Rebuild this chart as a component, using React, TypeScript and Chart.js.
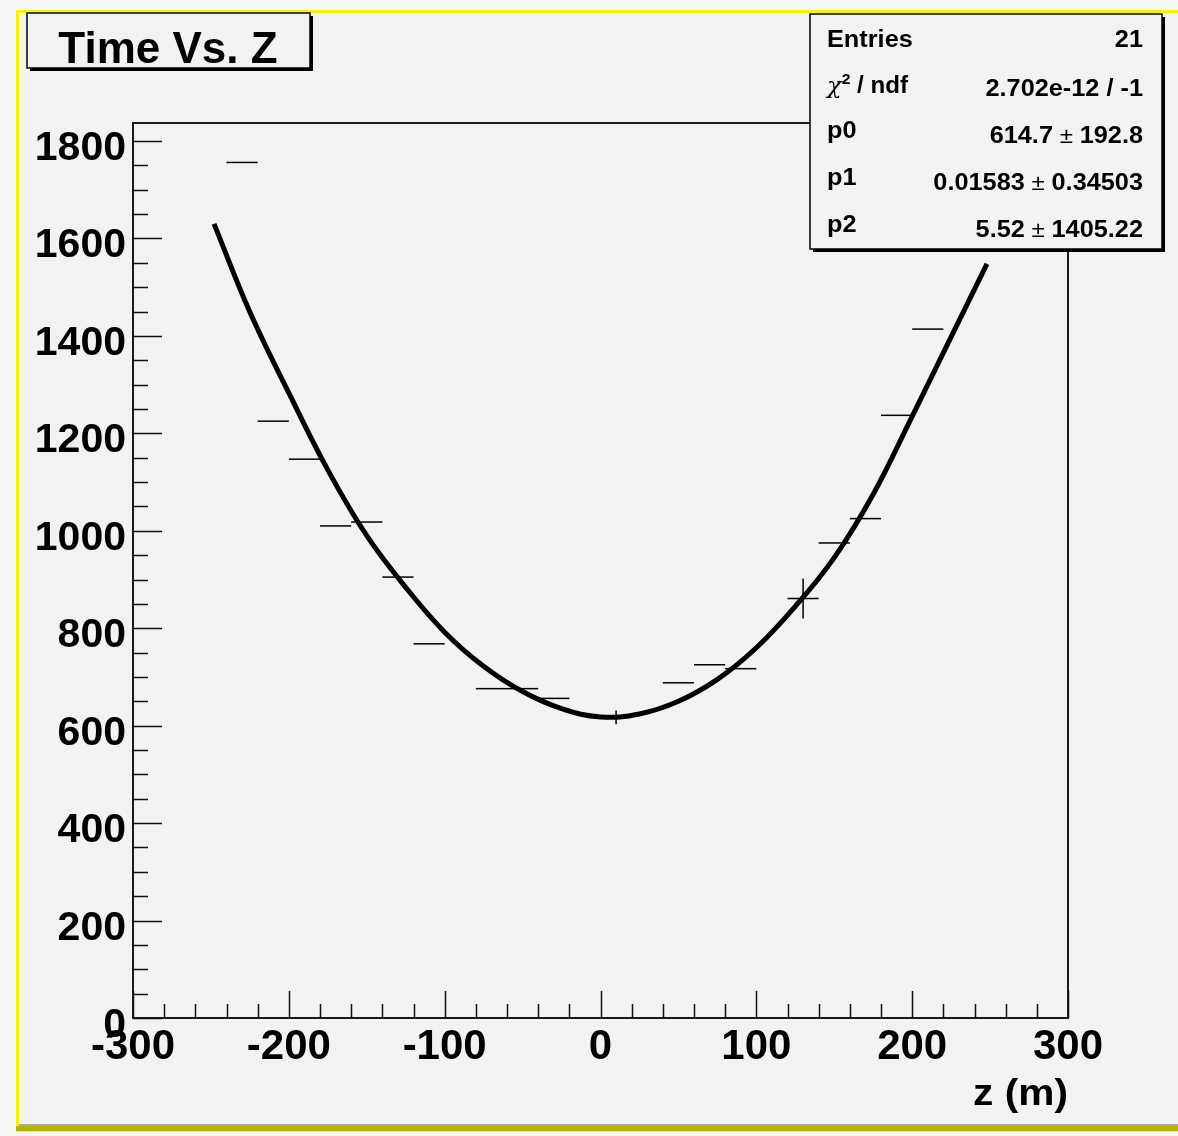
import React, { useEffect, useRef } from "react";
import { Chart, registerables } from "chart.js";

Chart.register(...registerables);

// ---- data ----
const pointZ = [-230, -210, -190, -170, -150, -130, -110, -70, -50, -30, 10, 50, 70, 90, 130, 150, 170, 190, 210];
const pointTime = [1756, 1225, 1147, 1010, 1018, 905, 768, 676, 676, 656, 617, 688, 725, 717, 861, 975, 1025, 1237, 1414];
const pointZErr = [10, 10, 10, 10, 10, 10, 10, 10, 10, 10, 10, 10, 10, 10, 10, 10, 10, 10, 10];
const pointTimeErr = [0, 0, 0, 0, 0, 0, 0, 0, 0, 0, 14, 0, 0, 0, 41, 0, 0, 0, 0];

const fitZ = [-248, -225, -200, -175, -150, -125, -100, -75, -50, -25, 0, 25, 50, 75, 100, 125, 150, 175, 200, 225, 248];
const fitTime = [1630, 1449, 1283, 1125, 990, 884, 792, 722, 670, 635, 618, 624, 650, 695, 760, 845, 945, 1075, 1235, 1398, 1548];

const xTickLabels = [-300, -200, -100, 0, 100, 200, 300];
const yTickLabels = [0, 200, 400, 600, 800, 1000, 1200, 1400, 1600, 1800];

const titleText = "Time Vs. Z";
const xAxisTitle = "z (m)";
const statsEntries = "21";
const statsChi2 = "2.702e-12 / -1";
const statsParams = [
  { name: "p0", value: "614.7", err: "192.8" },
  { name: "p1", value: "0.01583", err: "0.34503" },
  { name: "p2", value: "5.52", err: "1405.22" },
];

const FONT = "'Liberation Sans', Arial, Helvetica, sans-serif";

type Piece = { t: string; f: string; dy?: number };

function drawPieces(ctx: CanvasRenderingContext2D, pieces: Piece[], x: number, y: number, align: "left" | "right", sx: number) {
  ctx.save();
  ctx.textBaseline = "alphabetic";
  ctx.textAlign = "left";
  ctx.fillStyle = "#000";
  let total = 0;
  const widths = pieces.map((p) => {
    ctx.font = p.f;
    const w = ctx.measureText(p.t).width * sx;
    total += w;
    return w;
  });
  let cx = align === "left" ? x : x - total;
  pieces.forEach((p, i) => {
    ctx.save();
    ctx.font = p.f;
    ctx.translate(cx, y + (p.dy || 0));
    ctx.scale(sx, 1);
    ctx.fillText(p.t, 0, 0);
    ctx.restore();
    cx += widths[i];
  });
  ctx.restore();
}

function drawText(ctx: CanvasRenderingContext2D, text: string, x: number, y: number, font: string, align: CanvasTextAlign, sx = 1) {
  ctx.save();
  ctx.font = font;
  ctx.textAlign = align;
  ctx.textBaseline = "alphabetic";
  ctx.fillStyle = "#000";
  ctx.translate(x, y);
  ctx.scale(sx, 1);
  ctx.fillText(text, 0, 0);
  ctx.restore();
}

function shadowBox(ctx: CanvasRenderingContext2D, x: number, y: number, w: number, h: number, bg: string) {
  ctx.save();
  ctx.fillStyle = "#000";
  ctx.fillRect(x + 3, y + 3, w, h);
  ctx.fillStyle = bg;
  ctx.fillRect(x, y, w, h);
  ctx.strokeStyle = "#000";
  ctx.lineWidth = 1.5;
  ctx.strokeRect(x, y, w, h);
  ctx.restore();
}

const rootDecor = {
  id: "rootDecor",
  beforeDraw(chart: any) {
    const ctx: CanvasRenderingContext2D = chart.ctx;
    const W = chart.width;
    const H = chart.height;
    ctx.save();
    ctx.fillStyle = "#f7f7f7";
    ctx.fillRect(0, 0, W, H);
    ctx.fillStyle = "#f2f2f2";
    ctx.fillRect(19, 13, W - 19, 1111);
    // yellow highlight border
    ctx.fillStyle = "#f4f400";
    ctx.fillRect(16, 10, W - 16, 3);
    ctx.fillRect(16, 10, 3, 1118);
    ctx.fillStyle = "#a9a9a9";
    ctx.fillRect(19, 1124, W - 19, 2);
    ctx.fillStyle = "#b6b600";
    ctx.fillRect(16, 1126, W - 16, 5);
    ctx.fillStyle = "#e4e4c8";
    ctx.fillRect(16, 1131, W - 16, 1);
    ctx.restore();
  },
  afterDraw(chart: any) {
    const ctx: CanvasRenderingContext2D = chart.ctx;
    const xs = chart.scales.x;
    const ys = chart.scales.y;
    const a = chart.chartArea;
    ctx.save();
    // frame
    ctx.strokeStyle = "#1a1a1a";
    ctx.lineWidth = 2;
    ctx.strokeRect(a.left, a.top, a.right - a.left, a.bottom - a.top);

    // ticks
    ctx.lineWidth = 1.5;
    ctx.strokeStyle = "#111";
    ctx.beginPath();
    for (let v = 0; v <= 1800; v += 50) {
      const py = Math.round(ys.getPixelForValue(v)) + 0.5;
      const len = v % 200 === 0 ? 29 : 15;
      ctx.moveTo(a.left, py);
      ctx.lineTo(a.left + len, py);
    }
    for (let v = -300; v <= 300; v += 20) {
      const px = Math.round(xs.getPixelForValue(v)) + 0.5;
      const len = v % 100 === 0 ? 27 : 14;
      ctx.moveTo(px, a.bottom);
      ctx.lineTo(px, a.bottom - len);
    }
    ctx.stroke();

    // tick labels
    yTickLabels.forEach((v) => {
      drawText(ctx, String(v), a.left - 7, ys.getPixelForValue(v) + 19, `bold 41px ${FONT}`, "right");
    });
    xTickLabels.forEach((v) => {
      drawText(ctx, String(v), xs.getPixelForValue(v), 1059, `bold 42px ${FONT}`, "center");
    });

    // axis title
    drawText(ctx, xAxisTitle, a.right, 1105, `bold 36px ${FONT}`, "right", 1.13);

    // title box
    shadowBox(ctx, 27, 13, 283, 55, "#f2f2f2");
    drawText(ctx, titleText, 168, 63, `bold 44px ${FONT}`, "center");

    // stats box
    shadowBox(ctx, 810, 14, 352, 235, "#f2f2f2");
    const sx = 1.1;
    const bold = `bold 23px ${FONT}`;
    const reg = `22px ${FONT}`;
    const L = 827;
    const R = 1143;
    drawPieces(ctx, [{ t: "Entries", f: bold }], L, 47, "left", sx);
    drawPieces(ctx, [{ t: statsEntries, f: bold }], R, 47, "right", sx);
    drawPieces(
      ctx,
      [
        { t: "\u03c7", f: `italic 23px 'DejaVu Serif', serif` },
        { t: "2", f: `bold 15px ${FONT}`, dy: -9 },
        { t: " / ndf", f: bold },
      ],
      L,
      93,
      "left",
      1.05
    );
    drawPieces(ctx, [{ t: statsChi2, f: bold }], R, 96, "right", sx);
    const rowsL = [138, 185, 232];
    const rowsR = [143, 190, 237];
    statsParams.forEach((p, i) => {
      drawPieces(ctx, [{ t: p.name, f: bold }], L, rowsL[i], "left", sx);
      drawPieces(
        ctx,
        [
          { t: p.value, f: bold },
          { t: " \u00b1 ", f: reg },
          { t: p.err, f: bold },
        ],
        R,
        rowsR[i],
        "right",
        sx
      );
    });
    ctx.restore();
  },
};

export default function App() {
  const ref = useRef<HTMLCanvasElement>(null);

  useEffect(() => {
    const datasets: any[] = [];
    datasets.push({
      label: "fit",
      data: fitZ.map((z, i) => ({ x: z, y: fitTime[i] })),
      showLine: true,
      borderColor: "#000",
      borderWidth: 5,
      pointRadius: 0,
      tension: 0.4,
      fill: false,
      order: 2,
    });
    pointZ.forEach((z, i) => {
      datasets.push({
        label: "xerr" + i,
        data: [
          { x: z - pointZErr[i], y: pointTime[i] },
          { x: z + pointZErr[i], y: pointTime[i] },
        ],
        showLine: true,
        borderColor: "#000",
        borderWidth: 1.5,
        pointRadius: 0,
        fill: false,
        order: 1,
      });
      if (pointTimeErr[i] > 0) {
        datasets.push({
          label: "yerr" + i,
          data: [
            { x: z, y: pointTime[i] - pointTimeErr[i] },
            { x: z, y: pointTime[i] + pointTimeErr[i] },
          ],
          showLine: true,
          borderColor: "#000",
          borderWidth: 1.5,
          pointRadius: 0,
          fill: false,
          order: 1,
        });
      }
    });

    const chart = new Chart(ref.current as HTMLCanvasElement, {
      type: "scatter",
      data: { datasets },
      options: {
        responsive: false,
        animation: false,
        devicePixelRatio: 1,
        layout: { padding: { left: 133, top: 123, right: 110, bottom: 118 } },
        scales: {
          x: { type: "linear", min: -300, max: 300, display: false },
          y: { type: "linear", min: 0, max: 1837, display: false },
        },
        plugins: {
          legend: { display: false },
          tooltip: { enabled: false },
          title: { display: false },
        },
        events: [],
      } as any,
      plugins: [rootDecor],
    });
    return () => chart.destroy();
  }, []);

  return (
    <div style={{ position: "fixed", left: 0, top: 0, width: 1178, height: 1136 }}>
      <canvas ref={ref} width={1178} height={1136} style={{ display: "block", width: 1178, height: 1136 }} />
    </div>
  );
}
